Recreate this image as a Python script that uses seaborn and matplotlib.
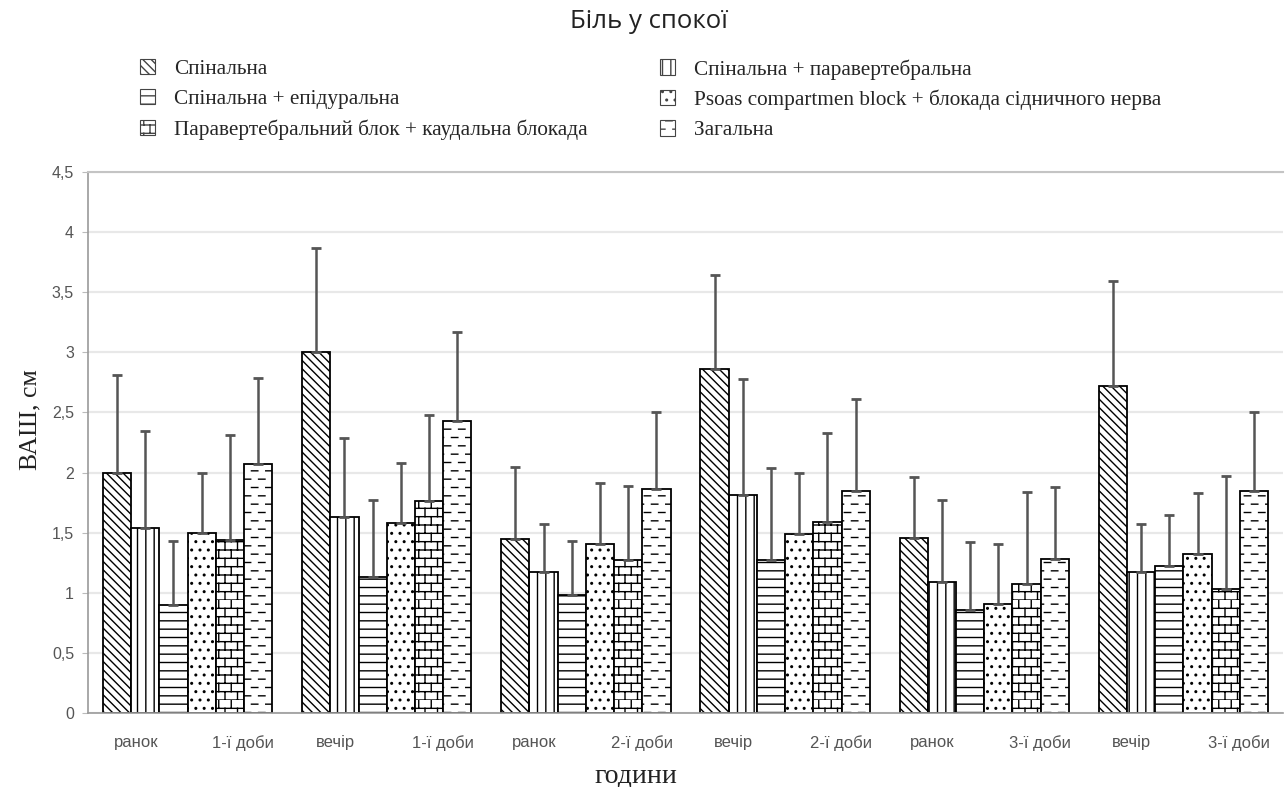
import numpy as np
import pandas as pd
import matplotlib
matplotlib.use('Agg')
import matplotlib.pyplot as plt
import matplotlib.patches as mpatches
from matplotlib import hatch as mhatch
from matplotlib.path import Path
import seaborn as sns

# дані (середнє та верхня похибка)
periods = ['ранок 1-ї доби', 'вечір 1-ї доби', 'ранок 2-ї доби',
           'вечір 2-ї доби', 'ранок 3-ї доби', 'вечір 3-ї доби']
tick_words = ['ранок', '1-ї доби', 'вечір', '1-ї доби', 'ранок', '2-ї доби',
              'вечір', '2-ї доби', 'ранок', '3-ї доби', 'вечір', '3-ї доби']
methods = ['Спінальна',
           'Спінальна + паравертебральна',
           'Спінальна + епідуральна',
           'Psoas compartmen block + блокада сідничного нерва',
           'Паравертебральний блок + каудальна блокада',
           'Загальна']

spinal = [2.00, 3.00, 1.45, 2.86, 1.46, 2.72]
spinal_sd = [0.81, 0.87, 0.60, 0.78, 0.50, 0.87]
sp_paravert = [1.54, 1.63, 1.17, 1.81, 1.09, 1.17]
sp_paravert_sd = [0.81, 0.66, 0.40, 0.97, 0.68, 0.40]
sp_epid = [0.90, 1.13, 0.98, 1.27, 0.86, 1.22]
sp_epid_sd = [0.53, 0.64, 0.45, 0.77, 0.56, 0.43]
psoas = [1.50, 1.58, 1.41, 1.49, 0.91, 1.32]
psoas_sd = [0.50, 0.50, 0.50, 0.51, 0.50, 0.51]
paravert_caudal = [1.44, 1.76, 1.27, 1.59, 1.07, 1.03]
paravert_caudal_sd = [0.87, 0.72, 0.62, 0.74, 0.77, 0.94]
general = [2.07, 2.43, 1.86, 1.85, 1.28, 1.85]
general_sd = [0.72, 0.74, 0.64, 0.76, 0.60, 0.65]

means = [spinal, sp_paravert, sp_epid, psoas, paravert_caudal, general]
sds = [spinal_sd, sp_paravert_sd, sp_epid_sd, psoas_sd, paravert_caudal_sd, general_sd]


# власні штрихування: 'O' - цегла, 'o' - риски
class BrickHatch(mhatch.HatchPatternBase):
    def __init__(self, hatch, density):
        self.rows = int(hatch.count('O') * density)
        self.cols = max(1, int(self.rows * 0.7))
        self.num_vertices = self.rows * (2 + 2 * self.cols) if self.rows else 0

    def set_vertices_and_codes(self, vertices, codes):
        h = 1.0 / self.rows
        w = 1.0 / self.cols
        k = 0
        for r in range(self.rows):
            y = r * h
            vertices[k] = (0, y)
            vertices[k + 1] = (1, y)
            codes[k] = Path.MOVETO
            codes[k + 1] = Path.LINETO
            k += 2
            off = w / 2 if r % 2 else 0
            for c in range(self.cols):
                x = c * w + off
                vertices[k] = (x, y)
                vertices[k + 1] = (x, y + h)
                codes[k] = Path.MOVETO
                codes[k + 1] = Path.LINETO
                k += 2


class DashHatch(mhatch.HatchPatternBase):
    def __init__(self, hatch, density):
        self.rows = int(hatch.count('o') * density)
        self.cols = max(1, int(self.rows * 0.6))
        self.num_vertices = self.rows * self.cols * 2 if self.rows else 0

    def set_vertices_and_codes(self, vertices, codes):
        h = 1.0 / self.rows
        w = 1.0 / self.cols
        k = 0
        for r in range(self.rows):
            y = (r + 0.5) * h
            off = w / 2 if r % 2 else 0
            for c in range(self.cols):
                x0 = c * w + off + 0.1 * w
                vertices[k] = (x0, y)
                vertices[k + 1] = (x0 + 0.45 * w, y)
                codes[k] = Path.MOVETO
                codes[k + 1] = Path.LINETO
                k += 2


mhatch._hatch_types = [t for t in mhatch._hatch_types
                       if t not in (mhatch.SmallCircles, mhatch.LargeCircles)] + [BrickHatch, DashHatch]

hatches = ['\\\\\\\\', '||', '--', '..', 'OO', 'oo']

rows = []
for m, vals in zip(methods, means):
    for p, v in zip(periods, vals):
        rows.append({'period': p, 'method': m, 'value': v})
df = pd.DataFrame(rows)

sns.set_style('white')
plt.rcParams['font.family'] = ['Liberation Sans', 'DejaVu Sans']
plt.rcParams['hatch.linewidth'] = 1.0

fig = plt.figure(figsize=(12.86, 7.87), dpi=100)
ax = fig.add_axes([0.0684, 0.094, 0.9293, 0.6874])

sns.barplot(data=df, x='period', y='value', hue='method', order=periods, hue_order=methods,
            palette=['white'] * 6, edgecolor='black', linewidth=1.3, width=0.85,
            errorbar=None, legend=False, ax=ax)

for cont, h, sd in zip(ax.containers, hatches, sds):
    for bar in cont:
        bar.set_hatch(h)
    xs = [b.get_x() + b.get_width() / 2 for b in cont]
    ys = [b.get_height() for b in cont]
    ax.errorbar(xs, ys, yerr=[np.zeros(len(sd)), sd], fmt='none', ecolor='#555555',
                elinewidth=1.8, capsize=3.3, capthick=2, zorder=3)

ax.set_xlim(-0.5, 5.5)
ax.set_ylim(0, 4.5)
yt = np.arange(0, 4.51, 0.5)
ax.set_yticks(yt)
ax.set_yticklabels([f'{v:g}'.replace('.', ',') for v in yt])
ax.yaxis.grid(True, color='#e8e8e8', lw=1.6)
ax.set_axisbelow(True)

ax.set_xticks(np.arange(0.5, 5.5, 1))
ax.set_xticklabels([])
ax.set_xticks([i + d for i in range(6) for d in (-0.26, 0.28)], minor=True)
ax.set_xticklabels(tick_words, minor=True)
ax.tick_params(axis='x', which='major', length=4, color='#bbbbbb')
ax.tick_params(axis='x', which='minor', length=0, pad=16, labelsize=12, labelcolor='#555555')
ax.tick_params(axis='y', length=4, pad=6, color='#bbbbbb', labelsize=11.5, labelcolor='#555555', left=True)

for s in ['left', 'bottom']:
    ax.spines[s].set_color('#9a9a9a')
    ax.spines[s].set_linewidth(1.2)
ax.spines['top'].set_color('#c4c4c4')
ax.spines['top'].set_linewidth(1.5)
ax.spines['right'].set_visible(False)
ax.set_xlabel('')
ax.set_ylabel('')

fig.text(30 / 1286, 1 - 420 / 787, 'ВАШ, см', rotation=90, ha='center', va='center',
         family='Liberation Serif', size=18.5, color='#222222')
fig.text(636 / 1286, 1 - 776 / 787, 'години', ha='center', va='center',
         family='Liberation Serif', size=20, color='#222222')
fig.text(0.505, 1 - 22 / 787, 'Біль у спокої', ha='center', va='center',
         family='Open Sans', size=18.5, color='#222222')

handles = [mpatches.Patch(facecolor='white', edgecolor='#444444', hatch=h, lw=0.8) for h in hatches]
leg_kw = dict(frameon=False, prop={'family': 'Liberation Serif', 'size': 15.3},
              handlelength=0.72, handleheight=0.72, handletextpad=0.9, labelspacing=0.48,
              borderpad=0, borderaxespad=0, loc='upper left')
fig.legend(handles[0::2], methods[0::2], bbox_to_anchor=(140 / 1286, 1 - 59 / 787), **leg_kw)
fig.legend(handles[1::2], methods[1::2], bbox_to_anchor=(660 / 1286, 1 - 59 / 787), **leg_kw)

fig.savefig('out.png', dpi=100)
